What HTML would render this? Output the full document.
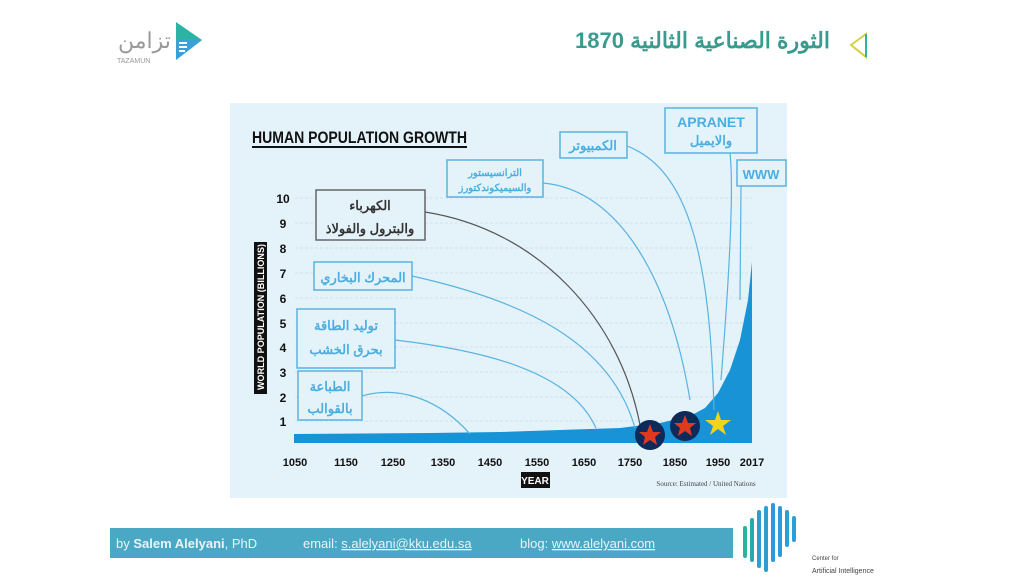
<!DOCTYPE html>
<html><head><meta charset="utf-8"><style>
body{margin:0;width:1024px;height:578px;background:#fff;overflow:hidden;font-family:"Liberation Sans","Noto Sans CJK SC",sans-serif;position:relative}
#t{position:absolute;right:194px;top:28px;direction:rtl;font-size:22px;font-weight:bold;color:#3a9a8e;white-space:nowrap;font-family:"Liberation Sans","Noto Sans CJK SC",sans-serif}
</style></head><body>
<svg width="1024" height="578" viewBox="0 0 1024 578" xmlns="http://www.w3.org/2000/svg" font-family="Liberation Sans, Noto Sans CJK SC, sans-serif" style="position:absolute;left:0;top:0">
<!-- logo -->
<text x="118" y="48" font-size="22" fill="#999" >تزامن</text>
<text x="117" y="63" font-size="7" fill="#999">TAZAMUN</text>
<polygon points="176,22 202,40 176,60" fill="#2bb3a3"/>
<polygon points="176,40 202,40 176,60" fill="#3aa0d8"/>
<rect x="179" y="42" width="8" height="2" fill="#fff"/><rect x="179" y="46" width="8" height="2" fill="#fff"/><rect x="179" y="50" width="6" height="2" fill="#fff"/>
<polygon points="866,34 851,45 866,57" fill="none" stroke="#d8d040" stroke-width="2"/>
<line x1="866" y1="34" x2="866" y2="57" stroke="#2bb3a3" stroke-width="2"/>
<!-- chart bg -->
<rect x="230" y="103" width="557" height="395" fill="#e4f2fa"/>
<text x="252" y="143" font-size="17" font-weight="bold" fill="#111" textLength="215" lengthAdjust="spacingAndGlyphs">HUMAN POPULATION GROWTH</text>
<rect x="252" y="146" width="215" height="2" fill="#111"/>
<!-- grid -->
<g stroke="#cfe0ea" stroke-width="1" stroke-dasharray="3,2">
<line x1="295" y1="198" x2="752" y2="198"/><line x1="295" y1="223" x2="752" y2="223"/><line x1="295" y1="248" x2="752" y2="248"/><line x1="295" y1="273" x2="752" y2="273"/><line x1="295" y1="298" x2="752" y2="298"/><line x1="295" y1="323" x2="752" y2="323"/><line x1="295" y1="347" x2="752" y2="347"/><line x1="295" y1="372" x2="752" y2="372"/><line x1="295" y1="397" x2="752" y2="397"/><line x1="295" y1="421" x2="752" y2="421"/>
</g>
<g font-size="12" font-weight="bold" fill="#111" text-anchor="middle">
<text x="283" y="203">10</text><text x="283" y="228">9</text><text x="283" y="253">8</text><text x="283" y="278">7</text><text x="283" y="303">6</text><text x="283" y="328">5</text><text x="283" y="352">4</text><text x="283" y="377">3</text><text x="283" y="402">2</text><text x="283" y="426">1</text>
</g>
<rect x="254" y="242" width="13" height="152" fill="#111"/>
<text transform="translate(264,390) rotate(-90)" font-size="9" font-weight="bold" fill="#fff" textLength="146" lengthAdjust="spacingAndGlyphs">WORLD POPULATION (BILLIONS)</text>
<g font-size="11" font-weight="bold" fill="#111" text-anchor="middle">
<text x="295" y="466">1050</text><text x="346" y="466">1150</text><text x="393" y="466">1250</text><text x="443" y="466">1350</text><text x="490" y="466">1450</text><text x="537" y="466">1550</text><text x="584" y="466">1650</text><text x="630" y="466">1750</text><text x="675" y="466">1850</text><text x="718" y="466">1950</text><text x="752" y="466">2017</text>
</g>
<rect x="521" y="472" width="29" height="16" fill="#111"/>
<text x="535" y="484" font-size="10" font-weight="bold" fill="#fff" text-anchor="middle">YEAR</text>
<text x="706" y="486" font-size="7" fill="#444" text-anchor="middle" font-family="Liberation Serif, serif">Source: Estimated / United Nations</text>
<!-- area -->
<path d="M294,434 L430,433 L500,432 L560,430 L620,428 L660,423 L690,416 L705,408 L718,393 L730,370 L740,340 L748,300 L752,262 L752,443 L294,443 Z" fill="#1793d6"/>
<!-- callout lines -->
<g fill="none" stroke="#5ab3e0" stroke-width="1.2">
<path d="M362,396 C400,385 440,400 470,434"/>
<path d="M395,340 C480,350 570,370 596,428"/>
<path d="M412,276 C520,300 610,340 635,428"/>
<path d="M543,183 C620,190 670,280 690,400"/>
<path d="M627,146 C690,170 710,260 714,410"/>
<path d="M730,153 C735,200 725,330 721,380"/>
<path d="M741,186 L740,300"/>
</g>
<path d="M425,212 C540,230 620,320 640,425" fill="none" stroke="#555" stroke-width="1.2"/>
<!-- boxes -->
<g fill="#e4f2fa" stroke="#5ab3e0" stroke-width="1.5">
<rect x="298" y="371" width="64" height="49"/><rect x="297" y="309" width="98" height="59"/><rect x="314" y="262" width="98" height="28"/>
<rect x="447" y="160" width="96" height="37"/><rect x="560" y="132" width="67" height="26"/><rect x="665" y="108" width="92" height="45"/><rect x="737" y="160" width="49" height="26"/>
</g>
<rect x="316" y="190" width="109" height="50" fill="#e4f2fa" stroke="#666" stroke-width="1.5"/>
<g font-weight="bold" text-anchor="middle" direction="rtl">
<g fill="#4aaee0" font-size="13">
<text x="330" y="391">الطباعة</text><text x="330" y="413">بالقوالب</text>
<text x="346" y="330">توليد الطاقة</text><text x="346" y="354">بحرق الخشب</text>
<text x="363" y="282">المحرك البخاري</text>
<text x="593" y="150">الكمبيوتر</text>
<text x="711" y="145">والايميل</text>
</g>
<g fill="#4aaee0" font-size="10"><text x="495" y="176">الترانسيستور</text><text x="495" y="191">والسيميكوندكتورز</text></g>
<g fill="#333" font-size="13"><text x="370" y="210">الكهرباء</text><text x="370" y="233">والبترول والفولاذ</text></g>
</g>
<text x="711" y="127" font-size="14" font-weight="bold" fill="#4aaee0" text-anchor="middle">APRANET</text>
<text x="761" y="179" font-size="13" font-weight="bold" fill="#4aaee0" text-anchor="middle">WWW</text>
<!-- stars -->
<circle cx="650" cy="435" r="15" fill="#0d2a5a"/><circle cx="685" cy="426" r="15" fill="#0d2a5a"/>
<g fill="#e03a1e">
<polygon points="650,424 653,432 661,432 655,437 657,445 650,440 643,445 645,437 639,432 647,432"/>
<polygon points="685,415 688,423 696,423 690,428 692,436 685,431 678,436 680,428 674,423 682,423"/>
</g>
<polygon points="718,411 721,420 731,420 723,426 726,435 718,429 710,435 713,426 705,420 715,420" fill="#f5d21c"/>
<!-- footer -->
<rect x="110" y="528" width="623" height="30" fill="#4aa8c4"/>
<text x="116" y="548" font-size="13" fill="#e8f4f8">by <tspan font-weight="bold">Salem Alelyani</tspan>, PhD</text>
<text x="303" y="548" font-size="13" fill="#e8f4f8">email: <tspan text-decoration="underline">s.alelyani@kku.edu.sa</tspan></text>
<text x="520" y="548" font-size="13" fill="#e8f4f8">blog: <tspan text-decoration="underline">www.alelyani.com</tspan></text>
<g stroke-width="4" stroke-linecap="round">
<line x1="745" y1="528" x2="745" y2="556" stroke="#27b59c"/><line x1="752" y1="520" x2="752" y2="560" stroke="#2aa9b5"/><line x1="759" y1="512" x2="759" y2="566" stroke="#2b9fd0"/><line x1="766" y1="508" x2="766" y2="570" stroke="#2b9fd0"/><line x1="773" y1="505" x2="773" y2="560" stroke="#2a9ad8"/><line x1="780" y1="508" x2="780" y2="555" stroke="#2a9ad8"/><line x1="787" y1="512" x2="787" y2="545" stroke="#2ba0d8"/><line x1="794" y1="518" x2="794" y2="540" stroke="#2ba0d8"/>
</g>
<text x="812" y="560" font-size="6" fill="#444">Center for</text>
<text x="812" y="573" font-size="7" fill="#444">Artificial Intelligence</text>
</svg>
<div id="t">الثورة الصناعية الثالنية 1870</div>
</body></html>
